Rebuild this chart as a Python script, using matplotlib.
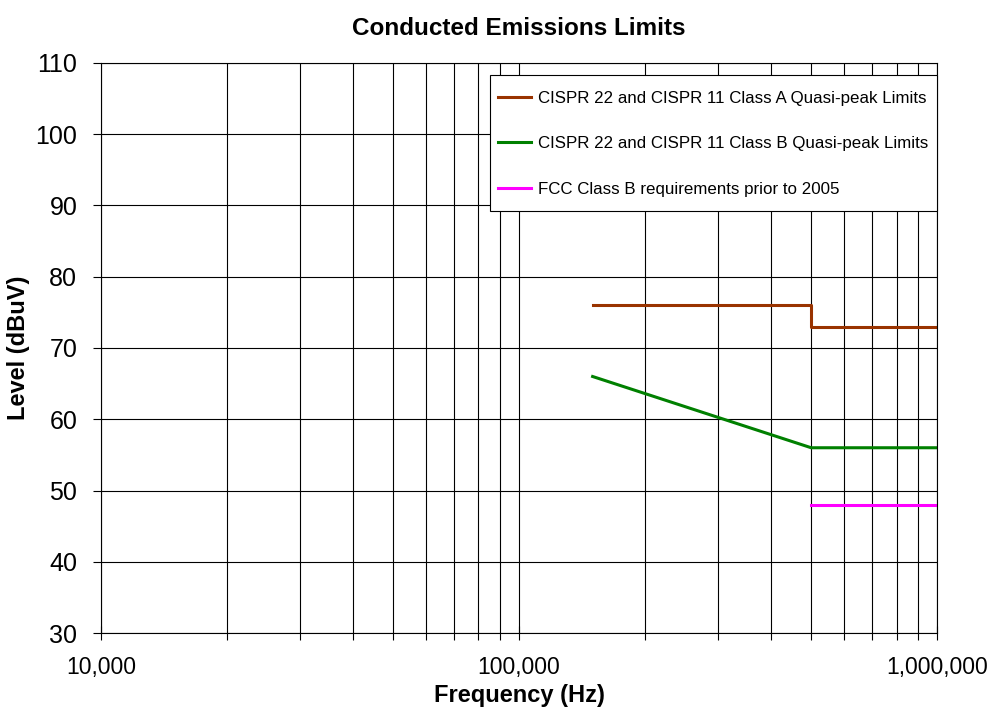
import numpy as np
import matplotlib.pyplot as plt
from matplotlib.patches import Rectangle
from matplotlib.ticker import FixedLocator, FuncFormatter, LogLocator

plt.rcParams['font.family'] = ['Liberation Sans', 'DejaVu Sans']

# limit lines (frequency in Hz, level in dBuV)
class_a_freq = [150000, 500000, 500000, 1000000]
class_a_level = [76, 76, 73, 73]
class_b_freq = [150000, 500000, 1000000]
class_b_level = [66, 56, 56]
fcc_b_freq = [500000, 1000000]
fcc_b_level = [48, 48]

labels = ['CISPR 22 and CISPR 11 Class A Quasi-peak Limits',
          'CISPR 22 and CISPR 11 Class B Quasi-peak Limits',
          'FCC Class B requirements prior to 2005']
colors = ['#993300', '#008000', '#FF00FF']

fig = plt.figure(figsize=(9.9, 7.11), dpi=100)
ax = fig.add_axes([0.102, 0.1097, 0.8445, 0.8017])

ax.plot(class_a_freq, class_a_level, color=colors[0], lw=2.2, label=labels[0])
ax.plot(class_b_freq, class_b_level, color=colors[1], lw=2.2, label=labels[1])
ax.plot(fcc_b_freq, fcc_b_level, color=colors[2], lw=2.2, label=labels[2])

ax.set_xscale('log')
ax.set_xlim(1e4, 1e6)
ax.set_ylim(30, 110)
ax.yaxis.set_major_locator(FixedLocator(np.arange(30, 111, 10)))
ax.xaxis.set_major_locator(FixedLocator([1e4, 1e5, 1e6]))
ax.xaxis.set_minor_locator(LogLocator(base=10, subs=np.arange(2, 10)))
ax.xaxis.set_major_formatter(FuncFormatter(lambda v, p: f'{v:,.0f}'))
ax.xaxis.set_minor_formatter(FuncFormatter(lambda v, p: ''))

ax.grid(True, which='both', axis='x', color='black', lw=0.8)
ax.grid(True, which='major', axis='y', color='black', lw=0.8)
ax.set_axisbelow(True)

ax.tick_params(axis='y', which='major', direction='out', length=6, width=0.8,
               labelsize=18, pad=11)
ax.tick_params(axis='x', which='major', direction='inout', length=10, width=0.8,
               labelsize=16.5, pad=11.5)
ax.tick_params(axis='x', which='minor', direction='out', length=5, width=0.8)
for s in ax.spines.values():
    s.set_color('black')
    s.set_linewidth(0.8)

ax.set_title('Conducted Emissions Limits', fontsize=17.5, fontweight='bold', pad=20)
ax.set_xlabel('Frequency (Hz)', fontsize=17, fontweight='bold', labelpad=4)
ax.set_ylabel('Level (dBuV)', fontsize=17, fontweight='bold', labelpad=4)

# legend box drawn separately so the entries get more room top and bottom
ax.add_patch(Rectangle((0.4653, 0.7404), 0.5347, 0.2386, transform=ax.transAxes,
                       facecolor='white', edgecolor='black', lw=0.8, zorder=4,
                       clip_on=False))
leg = ax.legend(loc='upper right', bbox_to_anchor=(0.9892, 0.951), fontsize=12.2,
                frameon=False, borderpad=0, labelspacing=1.8,
                handlelength=1.95, handletextpad=0.4, borderaxespad=0)
leg.set_zorder(5)

fig.savefig('out.png', dpi=100)
